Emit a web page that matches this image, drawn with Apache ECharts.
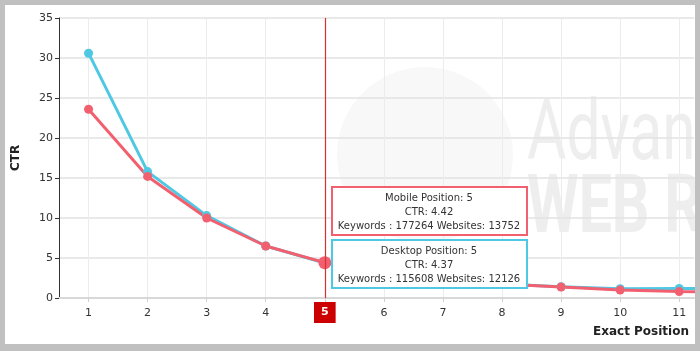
<!DOCTYPE html>
<html>
<head>
<meta charset="utf-8">
<script src="https://cdn.jsdelivr.net/npm/echarts@6/dist/echarts.min.js"></script>
<style>
html, body { margin: 0; padding: 0; background: #c0c0c0; }
#main { position: absolute; left: 5px; top: 5px; width: 690px; height: 339px; background: #fff; }
</style>
</head>
<body>
<div id="main"></div>
<script>
// exact position vs CTR
var positions = [1, 2, 3, 4, 5, 6, 7, 8, 9, 10, 11, 12];
var mobileCtr = [23.6, 15.2, 10.0, 6.5, 4.42, 3.2, 2.3, 1.75, 1.38, 1.0, 0.8, 0.7];
var desktopCtr = [30.6, 15.8, 10.3, 6.5, 4.37, 3.2, 2.3, 1.75, 1.4, 1.15, 1.2, 1.1];
var xTicks = [1, 2, 3, 4, 5, 6, 7, 8, 9, 10, 11];
var hoverPos = 5;
var mobileInfo = ['Mobile Position: 5', 'CTR: 4.42', 'Keywords : 177264 Websites: 13752'];
var desktopInfo = ['Desktop Position: 5', 'CTR: 4.37', 'Keywords : 115608 Websites: 12126'];

var red = '#f2606f';
var blue = '#4fc8e4';
var font = 'DejaVu Sans';

drawChart();

function toPairs(vals) {
    var out = [];
    for (var i = 0; i < vals.length; i++) {
        out.push([positions[i], vals[i]]);
    }
    return out;
}

function infoBox(lines, top, color) {
    return {
        type: 'group',
        left: 326,
        top: top,
        z: 100,
        children: [
            {
                type: 'rect',
                z: 100,
                shape: { x: 0, y: 0, width: 195, height: 48 },
                style: { fill: '#fff', stroke: color, lineWidth: 2 }
            },
            {
                type: 'text',
                z: 101,
                x: 97,
                y: 4,
                style: {
                    text: lines.join('\n'),
                    align: 'center',
                    verticalAlign: 'top',
                    lineHeight: 14,
                    font: '10px "' + font + '"',
                    fill: '#333'
                }
            }
        ]
    };
}

function drawChart() {
    var dom = document.getElementById('main');
    var myChart = echarts.init(dom, null, { renderer: 'canvas' });

    var option = {
        animation: false,
        textStyle: { fontFamily: font },
        grid: { left: 54, right: 1, top: 13, bottom: 46, containLabel: false, outerBoundsMode: 'none' },
        xAxis: {
            type: 'value',
            min: 0.5,
            max: 11.25,
            z: 2,
            axisLine: { show: true, lineStyle: { color: '#d8d8d8', width: 2 } },
            axisTick: { show: true, length: 4, customValues: xTicks, lineStyle: { color: '#d0d0d0' } },
            axisLabel: { customValues: xTicks, color: '#333', fontSize: 11, margin: 10 },
            splitLine: { show: true, lineStyle: { color: '#ececec' } },
            axisPointer: {
                show: true,
                value: hoverPos,
                status: 'show',
                type: 'line',
                lineStyle: { color: '#d83030', width: 1.2, type: 'solid', opacity: 1 },
                label: {
                    show: true,
                    backgroundColor: '#cc0000',
                    color: '#fff',
                    fontWeight: 'bold',
                    fontSize: 11,
                    padding: [5, 7, 5, 7],
                    margin: 4,
                    borderRadius: 0,
                    formatter: function (p) { return Math.round(p.value); }
                }
            }
        },
        yAxis: {
            type: 'value',
            min: 0,
            max: 35,
            interval: 5,
            z: 2,
            name: 'CTR',
            nameLocation: 'middle',
            nameRotate: 90,
            nameGap: 37,
            nameTextStyle: { fontWeight: 'bold', fontSize: 12, color: '#222' },
            axisLine: { show: true, lineStyle: { color: '#333', width: 1 } },
            axisTick: { show: true, length: 4, lineStyle: { color: '#333' } },
            axisLabel: { color: '#333', fontSize: 11, margin: 6 },
            splitLine: { lineStyle: { color: '#e2e2e2', width: 1.5 } }
        },
        graphic: [
            {
                type: 'group',
                z: -10,
                children: [
                    {
                        type: 'circle',
                        z: -10,
                        shape: { cx: 420, cy: 150, r: 88 },
                        style: { fill: '#f8f8f8' }
                    },
                    {
                        type: 'text',
                        z: -9,
                        x: 522,
                        y: 91,
                        scaleX: 0.72,
                        style: { text: 'Advanced', font: '84px Roboto', fill: '#eeeeee' }
                    },
                    {
                        type: 'text',
                        z: -9,
                        x: 522,
                        y: 165,
                        scaleX: 0.72,
                        style: { text: 'WEB RANKING', font: 'bold 82px Roboto', fill: '#eeeeee' }
                    }
                ]
            },
            {
                type: 'text',
                right: 6,
                bottom: 6,
                style: { text: 'Exact Position', font: 'bold 12px "' + font + '"', fill: '#222' }
            },
            infoBox(mobileInfo, 181, red),
            infoBox(desktopInfo, 234, blue)
        ],
        series: [
            {
                name: 'Desktop',
                type: 'line',
                data: toPairs(desktopCtr),
                symbol: 'circle',
                symbolSize: 9,
                lineStyle: { color: blue, width: 3 },
                itemStyle: { color: blue }
            },
            {
                name: 'Mobile',
                type: 'line',
                data: toPairs(mobileCtr),
                symbol: 'circle',
                symbolSize: function (v) { return v[0] === hoverPos ? 13 : 9; },
                lineStyle: { color: red, width: 3 },
                itemStyle: { color: red }
            }
        ]
    };

    myChart.setOption(option);
    window.addEventListener('resize', myChart.resize);
}
</script>
</body>
</html>
